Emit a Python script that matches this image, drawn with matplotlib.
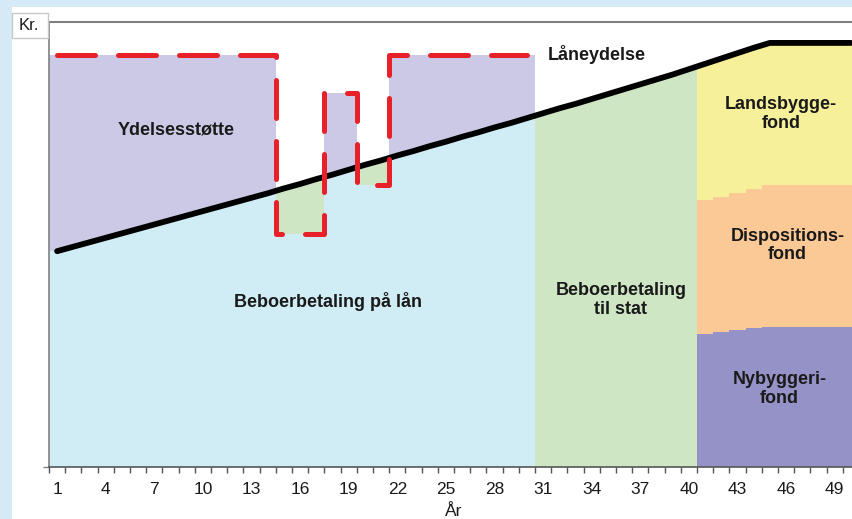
import numpy as np
import matplotlib
matplotlib.use("Agg")
import matplotlib.pyplot as plt
from matplotlib.patches import Rectangle

plt.rcParams['font.family'] = ['Liberation Sans', 'DejaVu Sans']

# --- data -------------------------------------------------------------
years = np.arange(1, 51)

# Beboerbetaling (black curve), kr. per year, years 1-50
beboerbetaling = [48.5, 49.5, 50.5, 51.5, 52.5, 53.5, 54.5, 55.5, 56.5, 57.5,
                  58.5, 59.5, 60.5, 61.5, 62.6, 63.6, 64.7, 65.7, 66.8, 67.9,
                  68.9, 70.0, 71.0, 72.1, 73.1, 74.2, 75.2, 76.3, 77.3, 78.4,
                  79.5, 80.6, 81.6, 82.7, 83.8, 84.9, 86.0, 87.1, 88.2, 89.4,
                  90.6, 91.8, 93.0, 94.2, 95.3, 95.3, 95.3, 95.3, 95.3, 95.3]

# Låneydelse (red dashed curve), years 1-30
laaneydelse = [92.6, 92.6, 92.6, 92.6, 92.6, 92.6, 92.6, 92.6, 92.6, 92.6,
               92.6, 92.6, 92.6, 92.6, 52.4, 52.4, 52.4, 84.0, 84.0, 63.4,
               63.4, 92.6, 92.6, 92.6, 92.6, 92.6, 92.6, 92.6, 92.6, 92.6]

# Split of the payment after year 40 (years 41-50)
nybyggerifond = [29.8, 30.3, 30.8, 31.2, 31.5, 31.5, 31.5, 31.5, 31.5, 31.5]
dispositionsfond = [30.2, 30.4, 30.8, 31.3, 31.9, 31.9, 31.9, 31.9, 31.9, 31.9]
landsbyggefond = [30.6, 31.1, 31.4, 31.7, 31.9, 31.9, 31.9, 31.9, 31.9, 31.9]

tick_years = [1, 4, 7, 10, 13, 16, 19, 22, 25, 28, 31, 34, 37, 40, 43, 46, 49]
tick_labels = ['1', '4', '7', '10', '13', '16', '19', '22', '25', '28',
               '31', '34', '37', '40', '43', '46', '49']

# --- colours ----------------------------------------------------------
C_BLUE = '#d0ecf4'
C_LAV = '#cbc9e5'
C_GREEN = '#cfe6c4'
C_NYB = '#9592c8'
C_DISP = '#fbc996'
C_LANDS = '#f6f09a'
C_RED = '#e8202a'
C_TEXT = '#1a1a1a'
C_BG = '#d6e9f7'

# --- figure -------------------------------------------------------------
W, H = 852, 519
fig = plt.figure(figsize=(W / 100, H / 100), dpi=100)
fig.patch.set_facecolor(C_BG)
fig.patches.append(Rectangle((12 / W, 0), 1, (H - 7) / H, transform=fig.transFigure,
                             facecolor='white', edgecolor='none', zorder=-10))

ax = fig.add_axes([49 / W, (H - 467) / H, 810 / W, 445 / H])
ax.set_facecolor('white')
ax.set_xlim(0.5, 50.5)
ax.set_ylim(0, 100)

pay = np.array(beboerbetaling)
loan = np.array(laaneydelse)
yl = years[:30]
pl = pay[:30]

# years 1-30: loan period
base = np.minimum(loan, pl)
green = np.maximum(0, pl - loan)
lav = np.maximum(0, loan - pl)
bar_kw = dict(width=1.0, linewidth=0, antialiased=False)
ax.bar(yl, base, color=C_BLUE, **bar_kw)
m = green > 0
ax.bar(yl[m], green[m], bottom=base[m], color=C_GREEN, **bar_kw)
m = lav > 0
ax.bar(yl[m], lav[m], bottom=pl[m], color=C_LAV, **bar_kw)

# years 31-40: payment to the state
ax.bar(years[30:40], pay[30:40], color=C_GREEN, **bar_kw)

# years 41-50: funds
yf = years[40:]
nyb = np.array(nybyggerifond)
disp = np.array(dispositionsfond)
lands = np.array(landsbyggefond)
ax.bar(yf, nyb, color=C_NYB, **bar_kw)
ax.bar(yf, disp, bottom=nyb, color=C_DISP, **bar_kw)
ax.bar(yf, lands, bottom=nyb + disp, color=C_LANDS, **bar_kw)

# curves
ax.plot(years, pay, color='black', lw=4.2, solid_capstyle='round',
        solid_joinstyle='round', zorder=5)
ax.step(yl, loan, where='mid', color=C_RED, lw=3.6, linestyle=(0, (7.6, 4.6)),
        dash_capstyle='round', zorder=6)

# labels
tk = dict(fontsize=13, fontweight='bold', color=C_TEXT, ha='center', va='center',
          linespacing=1.1, zorder=7)
ax.text(8.34, 75.7, 'Ydelsesstøtte', **tk)
ax.text(34.3, 92.8, 'Låneydelse', **tk)
ax.text(17.7, 37.1, 'Beboerbetaling på lån', **tk)
ax.text(35.8, 37.5, 'Beboerbetaling\ntil stat', **tk)
ax.text(45.7, 79.3, 'Landsbygge-\nfond', **tk)
ax.text(46.1, 49.7, 'Dispositions-\nfond', **tk)
ax.text(45.6, 17.5, 'Nybyggeri-\nfond', **tk)

# axes styling
ax.spines['right'].set_visible(False)
ax.spines['top'].set_color('#808080')
ax.spines['top'].set_linewidth(1.5)
ax.spines['left'].set_color('#808080')
ax.spines['left'].set_linewidth(1.2)
ax.spines['bottom'].set_color('#555555')
ax.spines['bottom'].set_linewidth(1.2)

ax.set_xticks(tick_years)
ax.set_xticklabels(tick_labels, fontsize=12.5, color=C_TEXT)
ax.set_xticks(np.arange(0.5, 51, 1.0), minor=True)
ax.tick_params(axis='x', which='major', length=0, pad=11)
ax.tick_params(axis='x', which='minor', length=4, width=1.0, color='#555555', direction='out')
ax.set_yticks([0])
ax.set_yticklabels([''])
ax.tick_params(axis='y', length=4, width=1.0, color='#808080')
ax.set_xlabel('År', fontsize=12.5, color=C_TEXT, labelpad=5)

# "Kr." unit box
fig.patches.append(Rectangle((12 / W, (H - 38) / H), 36 / W, 25 / H,
                             transform=fig.transFigure, facecolor='white',
                             edgecolor='#c8c8c8', lw=1.0, zorder=3))
fig.text(29 / W, (H - 26) / H, 'Kr.', fontsize=12, color=C_TEXT,
         ha='center', va='center')

fig.savefig('out.png', dpi=100, facecolor=fig.get_facecolor())
